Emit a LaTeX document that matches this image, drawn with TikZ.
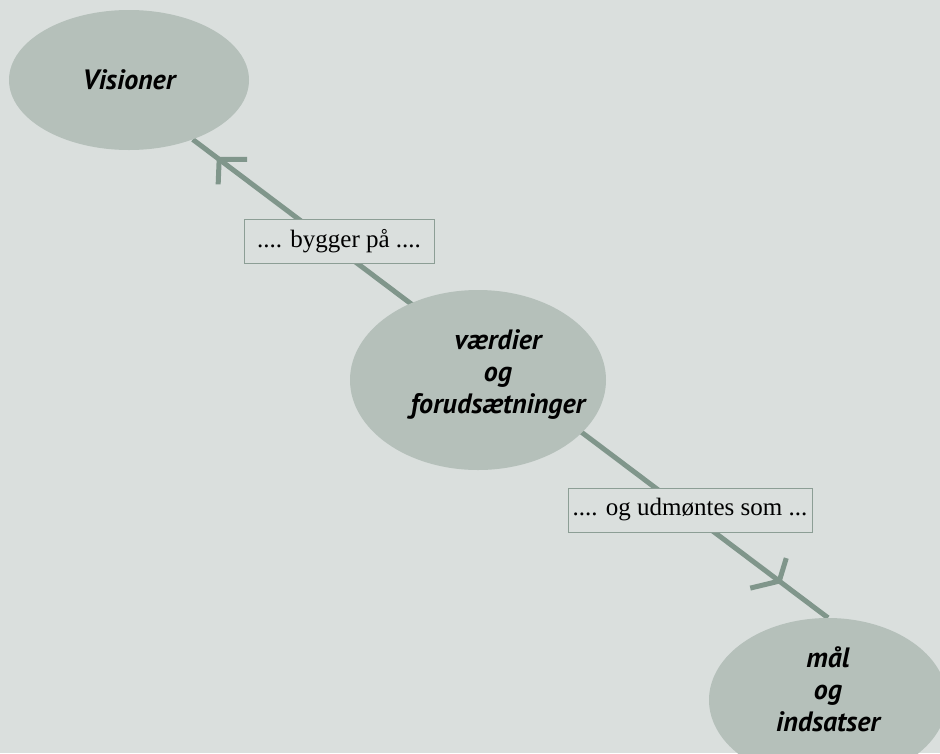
\documentclass[tikz,border=0pt]{standalone}
\usepackage{fontspec}
\setmainfont{Liberation Serif}
\newfontfamily\ellfont{PT Sans}
\usetikzlibrary{shapes.geometric,calc}
\definecolor{bgc}{RGB}{218,223,221}
\definecolor{ellc}{RGB}{181,192,186}
\definecolor{linec}{RGB}{128,150,139}
\definecolor{boxc}{RGB}{140,158,149}
\pgfdeclarelayer{bg}
\pgfsetlayers{bg,main}
\begin{document}
\begin{tikzpicture}[x=1pt,y=-1pt,
  ell/.style={ellipse, fill=ellc, draw=none, inner sep=0pt},
  etext/.style={font=\ellfont\bfseries\itshape\fontsize{28}{32}\selectfont, align=center, inner sep=0pt},
  lbl/.style={draw=boxc, line width=1pt, fill=bgc, font=\fontsize{25}{28}\selectfont, minimum height=44pt, inner sep=0pt},
  conn/.style={draw=linec, line width=5pt},
  chev/.style={draw=linec, line width=5pt, line join=miter},
  ]
\useasboundingbox (0,0) rectangle (940,753);
\begin{pgfonlayer}{bg}
\fill[bgc] (0,0) rectangle (940,753);
\end{pgfonlayer}
\begin{scope}
\clip (0,0) rectangle (940,753);
\node[ell, minimum width=240pt, minimum height=140pt,
      label={[etext]center:Visioner}] (V) at (129,80) {};
\node[ell, minimum width=256pt, minimum height=180pt,
      label={[etext, xshift=20pt, yshift=5pt]center:værdier\\og\\forudsætninger}] (W) at (478,380) {};
\node[ell, minimum width=238pt, minimum height=164pt,
      label={[etext, yshift=11pt]center:mål\\og\\indsatser}] (G) at (828,700) {};
\begin{pgfonlayer}{bg}
\draw[conn] (V.-43) -- (G.north);
\end{pgfonlayer}
\coordinate (t1) at ($(V.-43)!33pt!(G.north)$);
\coordinate (t2) at ($(G.north)!61pt!(V.-43)$);
\draw[chev] ($(t1)+(28,0)$) -- (t1) -- ++(-1,25);
\draw[chev] ($(t2)+(7,-23)$) -- (t2) -- ++(-29,7);
\node[lbl, minimum width=190pt] (L1) at (339,241) {.... bygger på ....};
\node[lbl, minimum width=244pt] (L2) at (690,510) {.... og udmøntes som ...};
\end{scope}
\end{tikzpicture}
\end{document}
